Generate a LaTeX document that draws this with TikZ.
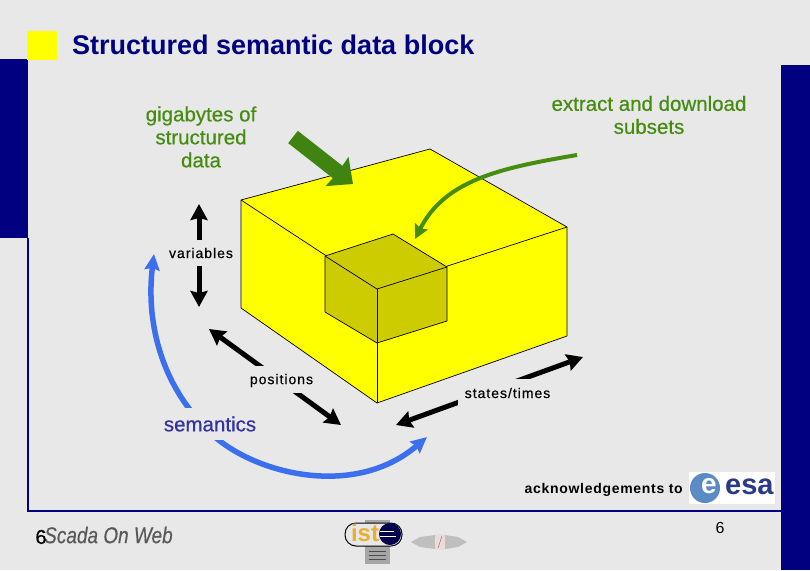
\documentclass[tikz,border=0pt]{standalone}
\usepackage{fontspec}
\setmainfont{Liberation Sans}
\usetikzlibrary{arrows.meta}
\definecolor{slidebg}{HTML}{E8E8E8}
\definecolor{slidenavy}{HTML}{000080}
\definecolor{blockyellow}{HTML}{FFFF00}
\definecolor{subsetyellow}{HTML}{CCCC00}
\definecolor{leafgreen}{HTML}{458C10}
\definecolor{darkleaf}{HTML}{3F8410}
\definecolor{arcblue}{HTML}{3B6FEE}
\definecolor{inkblue}{HTML}{3333A0}
\definecolor{esablue}{HTML}{5B8BC5}
\definecolor{esaink}{HTML}{2B3A85}
\definecolor{istgold}{HTML}{E8B030}
\tikzset{
  axisarrow/.style={line width=5pt,{Stealth[length=16pt,width=17pt,inset=2pt]}-{Stealth[length=16pt,width=17pt,inset=2pt]}},
  axislabel/.style={inner sep=0pt,font=\fontsize{14}{16}\selectfont\addfontfeature{LetterSpace=7,FakeBold=.4}},
  greenlabel/.style={text=leafgreen,align=center,font=\fontsize{20.5}{23}\selectfont\addfontfeature{FakeBold=.5}},
  edge/.style={draw=black,line width=.7pt,line join=round}
}
\begin{document}
\begin{tikzpicture}[x=1pt,y=-1pt]
\useasboundingbox(0,0) rectangle (810,570);
\fill[slidebg](0,0) rectangle (810,570);
% frame
\fill[slidenavy](0,59) rectangle (28,238);
\fill[slidenavy](781,65) rectangle (810,570);
\draw[slidenavy,line width=2pt](28,238)--(28,511)--(781,511);
\fill[blockyellow](27,31) rectangle (57,60);
\node[anchor=west,inner sep=0pt,text=slidenavy,font=\bfseries\fontsize{27}{30}\selectfont](title) at(72,45){Structured semantic data block};
% big block
\coordinate(bl) at(241,200);
\coordinate(bb) at(430,149);
\coordinate(br) at(567,227);
\coordinate(bf) at(377,289);
\coordinate(blb) at(241,308);
\coordinate(brb) at(567,336);
\coordinate(bfb) at(377,403);
\filldraw[edge,fill=blockyellow](bl)--(bb)--(br)--(brb)--(bfb)--(blb)--cycle;
\draw[edge](bl)--(bf)--(br);
\draw[edge](bf)--(bfb);
% subset
\coordinate(sl) at(325,256);
\coordinate(sb) at(393,234);
\coordinate(sr) at(447,267);
\coordinate(sf) at(377,289);
\coordinate(slb) at(325,312);
\coordinate(srb) at(447,321);
\coordinate(sfb) at(377,343);
\filldraw[edge,fill=subsetyellow](sl)--(sb)--(sr)--(srb)--(sfb)--(slb)--cycle;
\draw[edge](sl)--(sf)--(sr);
\draw[edge](sf)--(sfb);
% green arrows
\coordinate(intail) at(293,137);
\coordinate(intip) at(353,184);
\draw[darkleaf,line width=15.6pt,-{Stealth[length=20pt,width=36pt,inset=1pt]}](intail)--(intip);
\coordinate(outtail) at(577,155);
\coordinate(outtip) at(415,239);
\draw[leafgreen,line width=4pt,-{Stealth[length=14pt,width=14pt,inset=2pt]}](outtail) .. controls (500,168) and (445,180) .. (outtip);
\node[greenlabel](gigabytes) at(201,137){gigabytes of\\structured\\data};
\node[greenlabel](extract) at(649,115){extract and download\\subsets};
% axes
\coordinate(vartop) at(199,204);
\coordinate(varbot) at(199,307);
\coordinate(posleft) at(209,329);
\coordinate(posright) at(341,425);
\coordinate(stateleft) at(396,425);
\coordinate(stateright) at(583,357);
\draw[axisarrow](vartop)--(varbot);
\draw[axisarrow](posleft)--(posright);
\draw[axisarrow](stateleft)--(stateright);
\coordinate(arcstart) at(154,254);
\coordinate(arcmid) at(203,425);
\coordinate(arcend) at(427,437);
\draw[arcblue,line width=5.5pt,{Stealth[length=16pt,width=15pt,inset=2pt]}-{Stealth[length=16pt,width=15pt,inset=2pt]}](arcstart) .. controls (146,320) and (160,380) .. (arcmid) .. controls (240,470) and (350,503) .. (arcend);
\fill[slidebg](165,240) rectangle (237,266);
\node[axislabel](variables) at(201,253){variables};
\fill[slidebg](245,366) rectangle (318,393);
\node[axislabel](positions) at(281.5,380.5){positions};
\fill[slidebg](458,379) rectangle (556,405);
\node[axislabel](states) at(507.5,393){states/times};
\fill[slidebg](160,408) rectangle (262,440);
\node[text=inkblue,inner sep=0pt,font=\fontsize{20.5}{23}\selectfont\addfontfeature{FakeBold=.5}](semantics) at(210,424){semantics};
% footer
\node[font=\bfseries\fontsize{14}{16}\selectfont\addfontfeature{LetterSpace=5},inner sep=0pt,anchor=east](ack) at(683,490){acknowledgements to};
\fill[white](689,472) rectangle (775,504);
\fill[esablue](705,488) circle (15);
\node[text=white,inner sep=0pt,font=\bfseries\fontsize{28}{28}\selectfont](esae) at(709,486){e};
\node[anchor=west,text=esaink,inner sep=0pt,font=\bfseries\fontsize{29}{29}\selectfont](esa) at(725,487){esa};
\node[anchor=west,text=black!65,inner sep=0pt,font=\itshape\fontsize{19}{19}\selectfont\addfontfeature{FakeBold=.4}](scada) at(44,535){\scalebox{1}[1.2]{Scada On Web}};
\node[inner sep=0pt,font=\fontsize{20}{20}\selectfont\addfontfeature{FakeBold=.5}](pagea) at(41,537){6};
\node[inner sep=0pt,font=\fontsize{16}{18}\selectfont](pageb) at(720,528){6};
% ist
\fill[black!35](365,520) rectangle (390,564);
\draw[black,fill=slidebg,line width=1pt,rounded corners=11pt](345,523) rectangle (402,546);
\node[text=istgold,inner sep=0pt,font=\bfseries\fontsize{24}{24}\selectfont](ist) at(365,533){ist};
\fill[blue!30!black](390,534) circle (11);
\draw[white,line width=.8pt](380,531)--(394,531) (380,536)--(396,536);
\draw[black!70,line width=.6pt](369,551)--(386,551) (369,555)--(386,555) (369,559)--(386,559);
% navigation
\fill[black!25](411,542)--(420,537)--(435,535)--(435,549)--(420,547)--cycle;
\fill[black!25](467,542)--(458,537)--(445,535)--(445,549)--(458,547)--cycle;
\fill[red!5!slidebg](435,534) rectangle (445,550);
\draw[red!45!gray,line width=.4pt](438,548)--(442,536);
\end{tikzpicture}
\end{document}
